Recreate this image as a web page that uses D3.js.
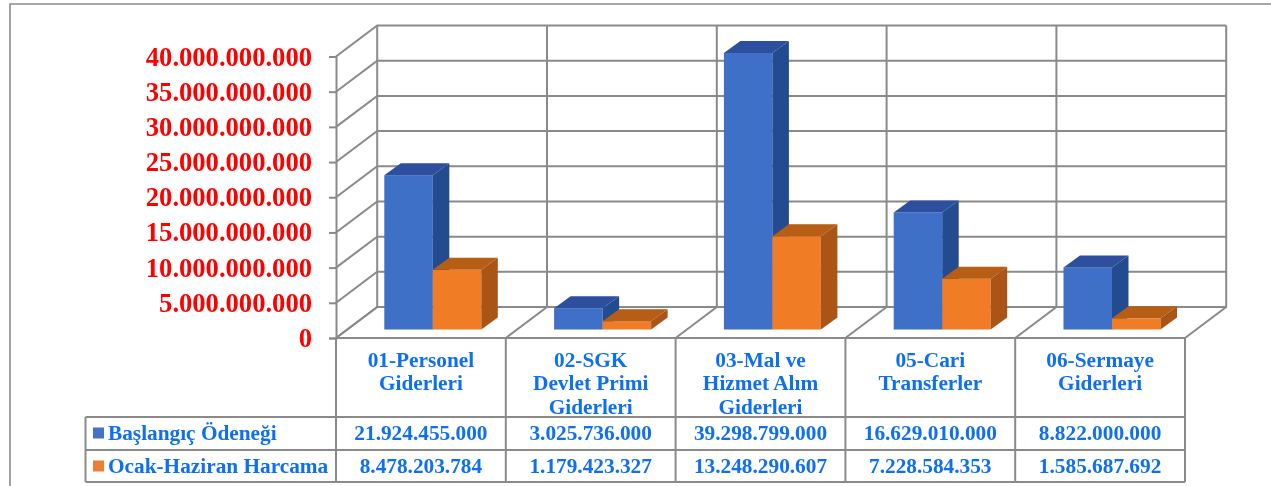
<!DOCTYPE html>
<html>
<head>
<meta charset="utf-8">
<script src="https://cdn.jsdelivr.net/npm/d3@7"></script>
<style>
    html, body { margin: 0; padding: 0; background: #fff; }
    svg { display: block; }
    text { font-family: "Liberation Serif", "Times New Roman", serif; font-weight: bold; }
</style>
</head>
<body>
<div id="chart"></div>
<script>
const categories = ["01-Personel Giderleri", "02-SGK Devlet Primi Giderleri", "03-Mal ve Hizmet Alım Giderleri", "05-Cari Transferler", "06-Sermaye Giderleri"];
const categoryLines = [
    ["01-Personel", "Giderleri"],
    ["02-SGK", "Devlet Primi", "Giderleri"],
    ["03-Mal ve", "Hizmet Alım", "Giderleri"],
    ["05-Cari", "Transferler"],
    ["06-Sermaye", "Giderleri"]
];
const seriesNames = ["Başlangıç Ödeneği", "Ocak-Haziran Harcama"];
const baslangic = [21924455000, 3025736000, 39298799000, 16629010000, 8822000000];
const harcama = [8478203784, 1179423327, 13248290607, 7228584353, 1585687692];
const yTicks = [0, 5e9, 10e9, 15e9, 20e9, 25e9, 30e9, 35e9, 40e9];

const width = 1271, height = 486;
const plot = { left: 336, right: 1185, top: 56.5, bottom: 338 };
const depth = { x: 41.2, y: -31 };       // floor, front edge to back wall
const barOffset = { x: 11.3, y: -8.5 };  // front face of the bars from the front edge
const barDepth = { x: 16.5, y: -12 };
const gridColor = "#8a8a8a";
const textBlue = "#0f6ff2";
const textSize = "21.3px";

const seriesStyles = [
    { key: "#4472c4", front: "#3e6fc6", top: "#2f4f9e", side: "#234c90" },
    { key: "#ed7d31", front: "#f07d27", top: "#b65d16", side: "#aa5519" }
];

const locale = d3.formatLocale({ decimal: ",", thousands: ".", grouping: [3], currency: ["", ""] });
const fmt = locale.format(",d");

const svg = d3.select("#chart").append("svg")
    .attr("width", width)
    .attr("height", height);

const defs = svg.append("defs");
defs.append("filter").attr("id", "soft")
    .attr("filterUnits", "userSpaceOnUse")
    .attr("x", 0).attr("y", 0).attr("width", width).attr("height", height)
    .append("feGaussianBlur").attr("stdDeviation", 0.55);

const root = svg.append("g").attr("filter", "url(#soft)");

const xScale = d3.scaleBand().domain(categories).range([plot.left, plot.right]);
const xInner = d3.scaleBand().domain(seriesNames).range([37, 134]);
const yScale = d3.scaleLinear().domain([0, 40e9]).range([plot.bottom, plot.top]);

const lineEdges = [plot.left, ...categories.map(c => xScale(c) + xScale.bandwidth())];

// outer frame, only top and left show in the picture
root.append("path")
    .attr("d", `M10,${height}V4H${width}`)
    .attr("fill", "none").attr("stroke", "#8c8c8c").attr("stroke-width", 1.6);

// back wall + left wall gridlines
const grid = root.append("g")
    .attr("fill", "none").attr("stroke", gridColor).attr("stroke-width", 2);

grid.selectAll(".h").data(yTicks).enter().append("path")
    .attr("class", "h")
    .attr("d", d => `M${plot.left},${yScale(d)}L${plot.left + depth.x},${yScale(d) + depth.y}H${plot.right + depth.x}`);

grid.selectAll(".v").data(lineEdges).enter().append("path")
    .attr("class", "v")
    .attr("d", d => `M${d},${plot.bottom}L${d + depth.x},${plot.bottom + depth.y}V${plot.top + depth.y}`);

// y axis
const yAxis = root.append("g")
    .attr("transform", `translate(${plot.left},0)`)
    .call(d3.axisLeft(yScale).tickValues(yTicks).tickFormat(d => fmt(d)).tickSize(7).tickPadding(17));
yAxis.select(".domain").attr("stroke", gridColor).attr("stroke-width", 2);
yAxis.selectAll("line").attr("stroke", gridColor).attr("stroke-width", 2);
yAxis.selectAll("text")
    .attr("fill", "#ff0000")
    .style("font-size", "26.6px")
    .style("font-family", '"Liberation Serif", serif')
    .style("font-weight", "bold");

// bars
const barGroups = root.selectAll(".cat")
    .data(categories)
    .enter().append("g")
    .attr("class", "cat");

barGroups.each(function (cat, i) {
    const g = d3.select(this);
    [baslangic, harcama].forEach((values, s) => {
        const style = seriesStyles[s];
        const x0 = xScale(cat) + xInner(seriesNames[s]) + barOffset.x;
        const x1 = x0 + xInner.bandwidth();
        const y0 = yScale(0) + barOffset.y;
        const y1 = yScale(values[i]) + barOffset.y;
        const dx = barDepth.x, dy = barDepth.y;
        g.append("rect")
            .attr("x", x0).attr("y", y1)
            .attr("width", x1 - x0).attr("height", y0 - y1)
            .attr("fill", style.front);
        g.append("path")
            .attr("d", `M${x0},${y1}L${x0 + dx},${y1 + dy}H${x1 + dx}L${x1},${y1}Z`)
            .attr("fill", style.top);
        g.append("path")
            .attr("d", `M${x1},${y1}L${x1 + dx},${y1 + dy}V${y0 + dy}L${x1},${y0}Z`)
            .attr("fill", style.side);
    });
});

// data table below the plot
const rowTop = [plot.bottom, 417, 450, 482];
const tableLeft = 85.5;
const table = root.append("g")
    .attr("fill", "none").attr("stroke", gridColor).attr("stroke-width", 2);

table.selectAll(".tv").data(lineEdges).enter().append("path")
    .attr("class", "tv")
    .attr("d", d => `M${d},${rowTop[0]}V${rowTop[3]}`);
table.append("path").attr("d", `M${plot.left},${rowTop[0]}H${plot.right}`);
table.selectAll(".th").data(rowTop.slice(1)).enter().append("path")
    .attr("class", "th")
    .attr("d", d => `M${tableLeft},${d}H${plot.right}`);
table.append("path").attr("d", `M${tableLeft},${rowTop[1]}V${rowTop[3]}`);

// category labels
root.selectAll(".catLabel")
    .data(categories)
    .enter().append("text")
    .attr("class", "catLabel")
    .attr("text-anchor", "middle")
    .attr("fill", textBlue)
    .style("font-size", textSize)
    .each(function (cat, i) {
        d3.select(this).selectAll("tspan")
            .data(categoryLines[i])
            .enter().append("tspan")
            .attr("x", xScale(cat) + xScale.bandwidth() / 2)
            .attr("y", (d, j) => 366.5 + j * 23.5)
            .text(d => d);
    });

// table rows
[baslangic, harcama].forEach((values, s) => {
    const baseline = rowTop[s + 1] + 22.5;
    root.append("rect")
        .attr("x", 93).attr("y", rowTop[s + 1] + 10.5)
        .attr("width", 11).attr("height", 11)
        .attr("fill", seriesStyles[s].key);
    root.append("text")
        .attr("x", 108).attr("y", baseline)
        .attr("fill", textBlue)
        .style("font-size", textSize)
        .text(seriesNames[s]);
    root.selectAll(".val" + s)
        .data(values)
        .enter().append("text")
        .attr("class", "val" + s)
        .attr("x", (d, i) => xScale(categories[i]) + xScale.bandwidth() / 2)
        .attr("y", baseline)
        .attr("text-anchor", "middle")
        .attr("fill", textBlue)
        .style("font-size", textSize)
        .text(d => fmt(d));
});
</script>
</body>
</html>
